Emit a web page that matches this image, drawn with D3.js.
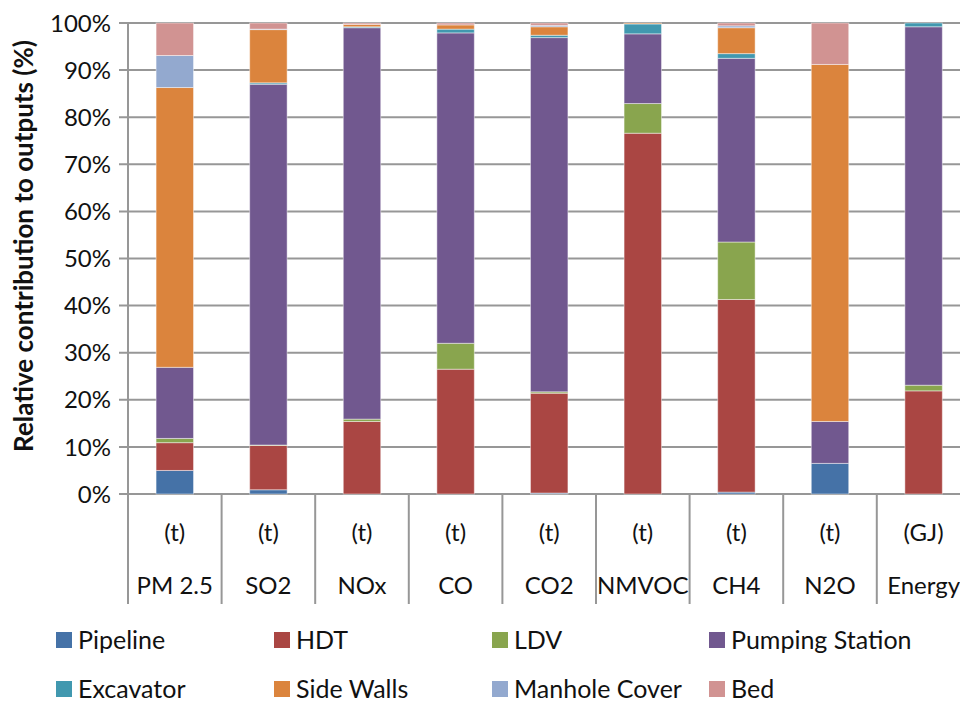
<!DOCTYPE html>
<html>
<head>
<meta charset="utf-8">
<script src="https://cdn.jsdelivr.net/npm/d3@7"></script>
<style>
  body { margin: 0; background: #fff; }
  text { font-family: Lato, "DejaVu Sans Condensed", sans-serif; fill: #111; }
</style>
</head>
<body>
<div id="chart-area"></div>
<script>
// Categories and units
const categories = ["PM 2.5", "SO2", "NOx", "CO", "CO2", "NMVOC", "CH4", "N2O", "Energy"];
const units = ["(t)", "(t)", "(t)", "(t)", "(t)", "(t)", "(t)", "(t)", "(GJ)"];

// Series (percent contribution)
const seriesNames = ["Pipeline", "HDT", "LDV", "Pumping Station", "Excavator", "Side Walls", "Manhole Cover", "Bed"];
const pipeline       = [5.0, 0.9, 0.0, 0.0, 0.2, 0.0, 0.4, 6.5, 0.0];
const hdt            = [5.9, 9.4, 15.4, 26.5, 21.2, 76.6, 40.9, 0.0, 21.9];
const ldv            = [0.9, 0.1, 0.5, 5.5, 0.3, 6.3, 12.2, 0.0, 1.2];
const pumpingStation = [15.1, 76.6, 83.1, 65.9, 75.2, 14.8, 39.0, 8.9, 76.1];
const excavator      = [0.0, 0.3, 0.2, 0.8, 0.5, 2.1, 1.0, 0.0, 0.8];
const sideWalls      = [59.4, 11.3, 0.5, 0.9, 1.8, 0.2, 5.5, 75.8, 0.0];
const manholeCover   = [6.8, 0.1, 0.0, 0.0, 0.3, 0.0, 0.4, 0.0, 0.0];
const bed            = [6.9, 1.3, 0.3, 0.4, 0.5, 0.0, 0.6, 8.8, 0.0];

const colors = ["#4572A7", "#AA4643", "#89A54E", "#71588F", "#4198AF", "#DB843D", "#93A9CF", "#D19392"];
const yTicks = [0, 10, 20, 30, 40, 50, 60, 70, 80, 90, 100];

// Table for d3.stack
const allSeries = [pipeline, hdt, ldv, pumpingStation, excavator, sideWalls, manholeCover, bed];
const table = categories.map((c, i) => {
    const row = { cat: c };
    seriesNames.forEach((s, j) => row[s] = allSeries[j][i]);
    return row;
});

const W = 960, H = 701;
const margin = { top: 23, left: 128, bottom: 207 };
const plotH = H - margin.top - margin.bottom;   // 471
const plotW = 9 * 93.6;

const svg = d3.select("#chart-area").append("svg")
    .attr("width", W)
    .attr("height", H);

const g = svg.append("g")
    .attr("transform", `translate(${margin.left}, ${margin.top})`);

const x = d3.scaleBand().domain(categories).range([0, plotW]).padding(0);
const y = d3.scaleLinear().domain([0, 100]).range([plotH, 0]);

// Gridlines (with tick stubs left of the axis)
g.append("g")
    .selectAll("line")
    .data(yTicks)
    .join("line")
    .attr("x1", -9).attr("x2", plotW)
    .attr("y1", d => y(d)).attr("y2", d => y(d))
    .attr("stroke", "#979797")
    .attr("stroke-width", 2);

// Y axis line
g.append("line")
    .attr("x1", 0).attr("x2", 0)
    .attr("y1", 0).attr("y2", plotH)
    .attr("stroke", "#979797")
    .attr("stroke-width", 2);

// Y tick labels
g.append("g")
    .selectAll("text")
    .data(yTicks)
    .join("text")
    .attr("x", -17)
    .attr("y", d => y(d))
    .attr("dy", "0.36em")
    .attr("text-anchor", "end")
    .style("font-size", "24px")
    .text(d => d + "%");

// Category separators under the axis
g.append("g")
    .selectAll("line")
    .data(d3.range(categories.length + 1))
    .join("line")
    .attr("x1", i => i * x.bandwidth()).attr("x2", i => i * x.bandwidth())
    .attr("y1", plotH).attr("y2", plotH + 110)
    .attr("stroke", "#979797")
    .attr("stroke-width", 2);

// Stacked bars
const stacked = d3.stack().keys(seriesNames)(table);
const barW = x.bandwidth() * 0.4;

g.append("g")
    .selectAll("g")
    .data(stacked)
    .join("g")
    .attr("fill", (d, i) => colors[i])
    .selectAll("rect")
    .data(d => d)
    .join("rect")
    .attr("x", d => x(d.data.cat) + (x.bandwidth() - barW) / 2)
    .attr("y", d => y(d[1]))
    .attr("width", barW)
    .attr("height", d => Math.max(0, y(d[0]) - y(d[1])))
    .attr("stroke", "#fff")
    .attr("stroke-opacity", 0.45)
    .attr("stroke-width", 1);

// X labels (unit + name)
const xl = g.append("g");
xl.selectAll(".unit")
    .data(categories)
    .join("text")
    .attr("class", "unit")
    .attr("x", d => x(d) + x.bandwidth() / 2)
    .attr("y", plotH + 47)
    .attr("text-anchor", "middle")
    .style("font-size", "24px")
    .text((d, i) => units[i]);

xl.selectAll(".cat")
    .data(categories)
    .join("text")
    .attr("class", "cat")
    .attr("x", d => x(d) + x.bandwidth() / 2)
    .attr("y", plotH + 100)
    .attr("text-anchor", "middle")
    .style("font-size", "24px")
    .text(d => d);

// Y axis title
svg.append("text")
    .attr("transform", "translate(33, 246) rotate(-90)")
    .attr("text-anchor", "middle")
    .style("font-size", "26px")
    .style("font-weight", "bold")
    .text("Relative contribution to outputs (%)");

// Legend
const legendX = [56, 274, 492, 709];
const legendY = [640, 689];
const legend = svg.append("g")
    .selectAll("g")
    .data(seriesNames)
    .join("g")
    .attr("transform", (d, i) => `translate(${legendX[i % 4]}, ${legendY[Math.floor(i / 4)]})`);

legend.append("rect")
    .attr("x", 0).attr("y", -8)
    .attr("width", 16).attr("height", 16)
    .attr("fill", (d, i) => colors[i]);

legend.append("text")
    .attr("x", 22)
    .attr("y", 0)
    .attr("dy", "0.36em")
    .style("font-size", "25px")
    .text(d => d);
</script>
</body>
</html>
